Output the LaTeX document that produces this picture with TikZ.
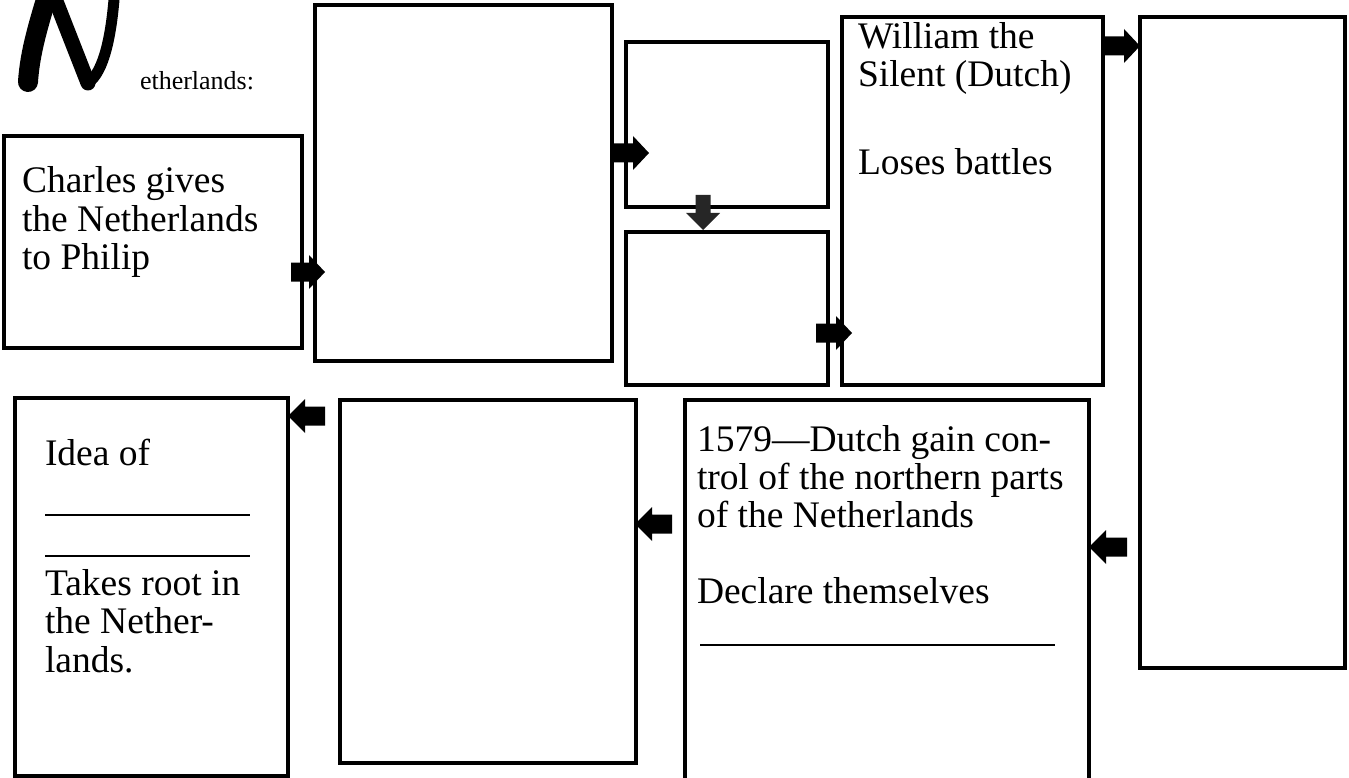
\documentclass[tikz,border=0pt]{standalone}
\usepackage{fontspec}
\setmainfont{Liberation Serif}
\begin{document}
\begin{tikzpicture}[x=1pt,y=-1pt,
  box/.style={draw=black,line width=3.2pt,outer sep=0pt,inner sep=0pt,anchor=north west},
  txt/.style={anchor=base west,inner sep=0pt,outer sep=0pt,font=\fontsize{37.5}{38}\selectfont},
  small/.style={anchor=base west,inner sep=0pt,outer sep=0pt,font=\fontsize{26}{28}\selectfont},
  blank/.style={line width=1.8pt,black}]
\useasboundingbox (0,0) rectangle (1349,778);
\newcommand{\boxat}[5]{\node[box,minimum width=#4-#2,minimum height=#5-#3] (#1) at (#2,#3) {};}
\newcommand{\rarr}[3]{\fill[black] (#1,#3-9.5) -- (#2-16,#3-9.5) -- (#2-16,#3-17) -- (#2,#3) -- (#2-16,#3+17) -- (#2-16,#3+9.5) -- (#1,#3+9.5) -- cycle;}
\newcommand{\larr}[3]{\fill[black] (#1,#3-9.5) -- (#2+17,#3-9.5) -- (#2+17,#3-17) -- (#2,#3) -- (#2+17,#3+17) -- (#2+17,#3+9.5) -- (#1,#3+9.5) -- cycle;}
% boxes
\boxat{A}{4}{136}{302}{348}
\boxat{B}{315}{5}{612}{361}
\boxat{C}{626}{42}{828}{207}
\boxat{D}{626}{232}{828}{385}
\boxat{E}{842}{17}{1103}{385}
\boxat{F}{1140}{17}{1345}{668}
\boxat{G}{15}{398}{288}{776}
\boxat{H}{340}{400}{636}{763}
\boxat{I}{685}{400}{1089}{786}
% title
\begin{scope}
\clip (0,0) rectangle (140,100);
\draw[line width=20pt,line cap=round,line join=round] (28,82) .. controls (30,50) and (40,20) .. (50,-14);
\draw[line width=15pt,line cap=round,line join=round] (50,-14) -- (88,83);
\draw[line width=11pt,line cap=round,line join=round] (88,83) .. controls (104,72) and (112,35) .. (115,-14);
\end{scope}
\node[small] (title) at (140,90) {etherlands:};
% texts
\node[txt] (a1) at (22,193) {Charles gives};
\node[txt] (a2) at (22,231) {the Netherlands};
\node[txt] (a3) at (22,269) {to Philip};
\node[txt] (e1) at (858,49) {William the};
\node[txt] (e2) at (858,87) {Silent (Dutch)};
\node[txt] (e3) at (858,175) {Loses battles};
\node[txt] (g1) at (45,465) {Idea of};
\coordinate (gl1a) at (45,515); \coordinate (gl1b) at (250,515);
\coordinate (gl2a) at (45,556); \coordinate (gl2b) at (250,556);
\draw[blank] (gl1a) -- (gl1b);
\draw[blank] (gl2a) -- (gl2b);
\node[txt] (g2) at (45,595) {Takes root in};
\node[txt] (g3) at (45,633) {the Nether-};
\node[txt] (g4) at (45,672) {lands.};
\node[txt] (i1) at (697,451) {1579—Dutch gain con-};
\node[txt] (i2) at (697,489) {trol of the northern parts};
\node[txt] (i3) at (697,527) {of the Netherlands};
\node[txt] (i4) at (697,603) {Declare themselves};
\coordinate (il1) at (700,645); \coordinate (il2) at (1055,645);
\draw[blank] (il1) -- (il2);
% arrows
\rarr{291}{325}{272}
\rarr{612}{649}{153}
\rarr{816}{852}{333}
\rarr{1103}{1140}{46}
\larr{325}{288}{416}
\larr{672}{635}{524}
\larr{1127}{1089}{547}
\fill[black!85] (695.5,195) -- (695.5,213) -- (686,213) -- (703,230) -- (720,213) -- (710.5,213) -- (710.5,195) -- cycle;
\end{tikzpicture}
\end{document}
